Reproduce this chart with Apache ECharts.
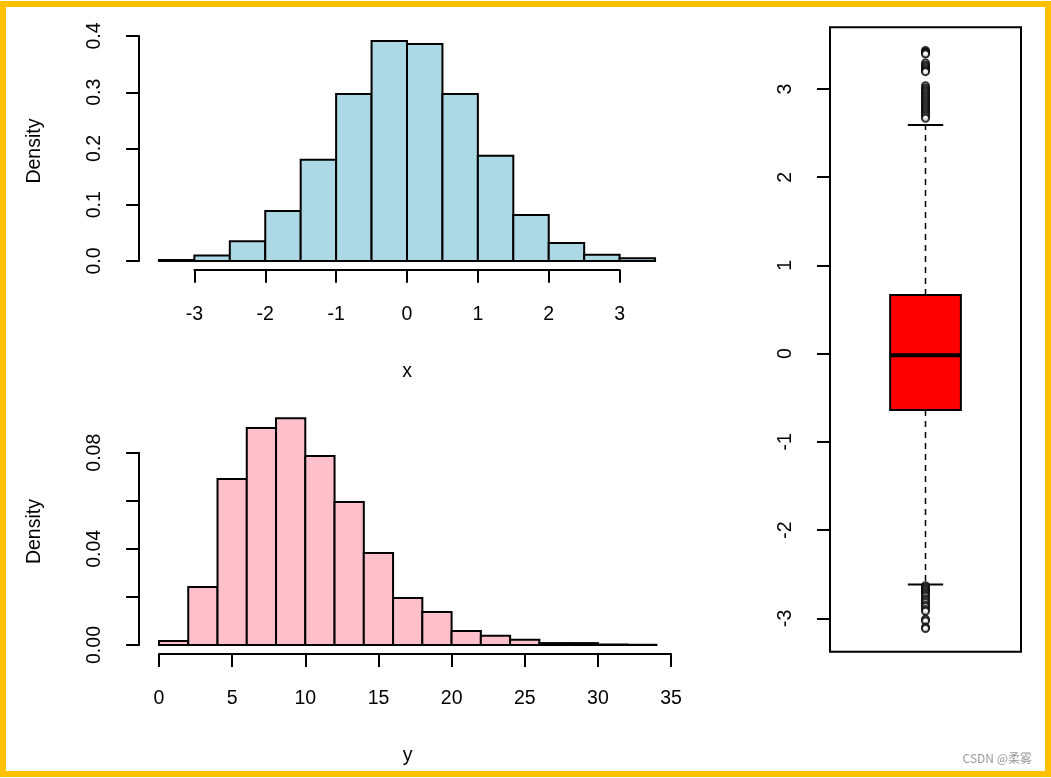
<!DOCTYPE html>
<html><head><meta charset="utf-8">
<script src="https://cdn.jsdelivr.net/npm/echarts@6/dist/echarts.min.js"></script>
<style>
html,body{margin:0;padding:0;background:#fff;}
#c{width:1051px;height:778px;}
#f{position:absolute;left:0;top:1px;width:1051px;height:776px;border:6px solid #FFC000;box-sizing:border-box;pointer-events:none;}
</style>
</head><body><div id="c"></div><div id="f"></div>
<script>
// ---- data ----
const xBreaks = [-3.5,-3,-2.5,-2,-1.5,-1,-0.5,0,0.5,1,1.5,2,2.5,3,3.5];
const xDensity = [0.002,0.010,0.035,0.089,0.180,0.297,0.391,0.386,0.297,0.187,0.082,0.032,0.011,0.005];
const xTickLabels = ['-3','-2','-1','0','1','2','3'];
const xDensityTickLabels = ['0.0','0.1','0.2','0.3','0.4'];

const yBreaks = [0,2,4,6,8,10,12,14,16,18,20,22,24,26,28,30,32,34];
const yDensity = [0.0017,0.0241,0.0691,0.0903,0.0944,0.0786,0.0595,0.0383,0.0196,0.0137,0.0058,0.0039,0.0022,0.0008,0.0008,0.0002,0.0001];
const yTickLabels = ['0','5','10','15','20','25','30','35'];
const yDensityTickLabels = ['0.00','','0.04','','0.08'];

// boxplot of x: lower whisker, Q1, median, Q3, upper whisker
const boxStats = [-2.616,-0.639,-0.019,0.664,2.591];
const boxOutliers = [3.437,3.42,3.41,3.396,3.294,3.27,3.25,3.23,3.21,3.196,3.037,3.01,2.99,2.97,2.95,2.93,2.91,2.89,2.87,2.85,2.83,2.81,2.79,2.77,2.75,2.73,2.71,2.69,2.667,
  -2.63,-2.65,-2.67,-2.69,-2.71,-2.73,-2.75,-2.78,-2.80,-2.82,-2.85,-2.87,-2.90,-2.92,-3.01,-3.03,-3.10,-3.117];
const boxTickLabels = ['-3','-2','-1','0','1','2','3'];

// ---- build ----
const FONT = "'Liberation Sans', Arial, sans-serif";
const FS = 19.5;
const topHist = xDensity.map((d,i)=>[xBreaks[i], xBreaks[i+1], d]);
const botHist = yDensity.map((d,i)=>[yBreaks[i], yBreaks[i+1], d]);

function histItem(color){
  return function(params, api){
    const p0 = api.coord([api.value(0), api.value(2)]);
    const p1 = api.coord([api.value(1), 0]);
    return {type:'rect', shape:{x:p0[0], y:p0[1], width:p1[0]-p0[0], height:p1[1]-p0[1]},
      style:{fill:color, stroke:'#000', lineWidth:2}};
  };
}
function boxItem(params, api){
  const c = api.value(0), lo = api.value(1), q1 = api.value(2), med = api.value(3), q3 = api.value(4), hi = api.value(5);
  const hw = 0.2, cw = 0.1;
  const P = (x,y)=>api.coord([x,y]);
  const line = (a,b,w,dash)=>({type:'line', shape:{x1:a[0],y1:a[1],x2:b[0],y2:b[1]},
      style:{stroke:'#000', lineWidth:w, lineDash:dash||null}});
  const tl = P(c-hw,q3), br = P(c+hw,q1);
  return {type:'group', children:[
    line(P(c,q3),P(c,hi),1.5,[6,5]),
    line(P(c,q1),P(c,lo),1.5,[6,5]),
    line(P(c-cw,hi),P(c+cw,hi),2),
    line(P(c-cw,lo),P(c+cw,lo),2),
    {type:'rect', shape:{x:tl[0],y:tl[1],width:br[0]-tl[0],height:br[1]-tl[1]}, style:{fill:'#FF0000',stroke:'#000',lineWidth:2}},
    line(P(c-hw,med),P(c+hw,med),4)
  ]};
}

const axLine = {show:true, lineStyle:{color:'#000', width:2}};
const axTick = {show:true, inside:false, length:13, lineStyle:{color:'#000', width:2}};
function hidden(g,min,max){ return {type:'value', gridIndex:g, min:min, max:max, show:false}; }
function visX(g,min,max,interval,labels){
  return {type:'value', gridIndex:g, min:min, max:max, interval:interval, position:'bottom',
    axisLine:axLine, axisTick:axTick, splitLine:{show:false},
    axisLabel:{margin:35, fontSize:FS, color:'#000', fontFamily:FONT, formatter:(v,i)=>labels[i]}};
}
function visY(g,min,max,interval,labels){
  return {type:'value', gridIndex:g, min:min, max:max, interval:interval, position:'left',
    axisLine:axLine, axisTick:axTick, splitLine:{show:false},
    axisLabel:{margin:34, fontSize:FS, color:'#000', fontFamily:FONT, rotate:90, formatter:(v,i)=>labels[i]}};
}
function nameX(g,min,max,name){
  return {type:'value', gridIndex:g, min:min, max:max, name:name, nameLocation:'middle', nameGap:92,
    nameTextStyle:{fontSize:FS, color:'#000', fontFamily:FONT},
    axisLine:{show:false}, axisTick:{show:false}, axisLabel:{show:false}, splitLine:{show:false}};
}
function nameY(g,min,max,name){
  return {type:'value', gridIndex:g, min:min, max:max, name:name, nameLocation:'middle', nameGap:94, nameRotate:90,
    nameTextStyle:{fontSize:FS, color:'#000', fontFamily:FONT},
    axisLine:{show:false}, axisTick:{show:false}, axisLabel:{show:false}, splitLine:{show:false}};
}

const option = {
  animation:false,
  backgroundColor:'#fff',
  title:{text:'CSDN @柔雾', right:14, bottom:9,
    textStyle:{fontSize:12, color:'#999', fontWeight:'normal', fontFamily:"'Noto Sans CJK SC', sans-serif"}},
  grid:[
    {left:139.1, top:32.3, width:535.8, height:237.5},   // 0 top plot region
    {left:194.4, top:32.3, width:425.2, height:237.5},   // 1 top x axis
    {left:139.1, top:36,   width:535.8, height:225},     // 2 top y axis
    {left:139.1, top:409,  width:537.2, height:245.1},   // 3 bottom plot region
    {left:159.0, top:409,  width:512.1, height:245.1},   // 4 bottom x axis
    {left:139.1, top:452.7,width:537.2, height:192.3},   // 5 bottom y axis
    {left:830,   top:27.3, width:191,   height:624.4, show:true, borderColor:'#000', borderWidth:2, backgroundColor:'transparent'}, // 6 box region
    {left:830,   top:89,   width:191,   height:529.3}    // 7 box y axis
  ],
  xAxis:[
    nameX(0,-3.78,3.78,'x'),
    visX(1,-3,3,1,xTickLabels),
    hidden(2,0,1),
    nameX(3,-1.36,35.36,'y'),
    visX(4,0,35,5,yTickLabels),
    hidden(5,0,1),
    hidden(6,0.46,1.54),
    hidden(7,0,1)
  ],
  yAxis:[
    nameY(0,-0.0156,0.4066,'Density'),
    hidden(1,0,1),
    visY(2,0,0.4,0.1,xDensityTickLabels),
    nameY(3,-0.00378,0.0982,'Density'),
    hidden(4,0,1),
    visY(5,0,0.08,0.02,yDensityTickLabels),
    hidden(6,-3.379,3.699),
    visY(7,-3,3,1,boxTickLabels)
  ],
  series:[
    {type:'custom', xAxisIndex:0, yAxisIndex:0, data:topHist, renderItem:histItem('#ADD8E6'), encode:{x:[0,1], y:2}},
    {type:'custom', xAxisIndex:3, yAxisIndex:3, data:botHist, renderItem:histItem('#FFC0CB'), encode:{x:[0,1], y:2}},
    {type:'custom', xAxisIndex:6, yAxisIndex:6, data:[[1].concat(boxStats)], renderItem:boxItem, encode:{x:0, y:[1,2,3,4,5]}},
    {type:'scatter', xAxisIndex:6, yAxisIndex:6, data:boxOutliers.map(v=>[1,v]), symbol:'emptyCircle', symbolSize:7,
      itemStyle:{color:'#000', borderColor:'#000', borderWidth:1.2}, z:5}
  ]
};
const chart = echarts.init(document.getElementById('c'), null, {renderer:'canvas'});
chart.setOption(option);
</script>
</body></html>
